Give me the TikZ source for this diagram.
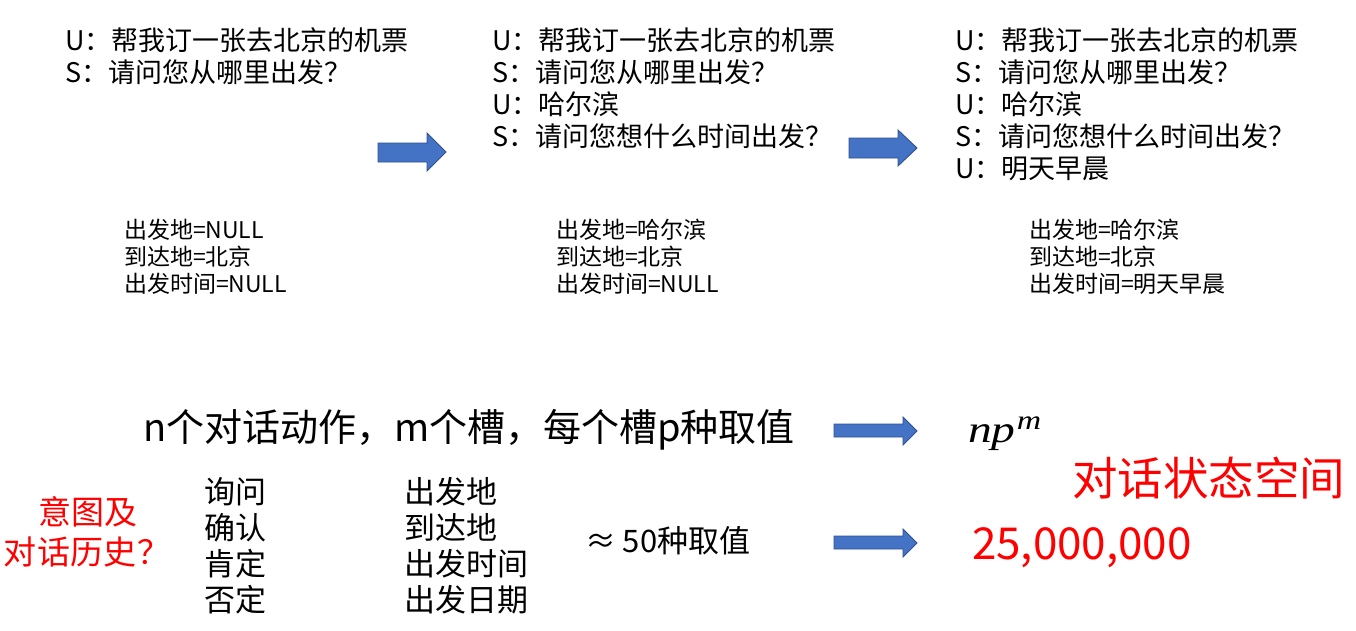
\documentclass[tikz,border=0pt]{standalone}
\usepackage{fontspec}
\setmainfont{Noto Sans CJK SC}
\newfontfamily\mathlikefont{Liberation Serif}
\definecolor{arrfill}{HTML}{4472C4}
\definecolor{arrdraw}{HTML}{2F528F}
\definecolor{myred}{HTML}{FF0000}
\tikzset{
  txt/.style={anchor=base west, inner sep=0pt, outer sep=0pt},
  dlg/.style={txt, font=\fontsize{27}{32}\selectfont},
  slot/.style={txt, font=\fontsize{23}{27}\selectfont},
  big/.style={txt, font=\fontsize{38}{42}\selectfont},
  mid/.style={txt, font=\fontsize{31}{36}\selectfont},
  redtxt/.style={inner sep=0pt, outer sep=0pt, text=myred},
  blockarrow/.style={fill=arrfill, draw=arrdraw, line width=0.9pt, line join=miter}
}
\begin{document}
\begin{tikzpicture}[x=1pt,y=-1pt]
\useasboundingbox (0,0) rectangle (1356,630);
% dialogue 1
\node[dlg] (d1a) at (65,50.3) {U：帮我订一张去北京的机票};
\node[dlg] (d1b) at (65,82.3) {S：请问您从哪里出发？};
% dialogue 2
\node[dlg] (d2a) at (492,50.3) {U：帮我订一张去北京的机票};
\node[dlg] (d2b) at (492,82.3) {S：请问您从哪里出发？};
\node[dlg] (d2c) at (492,114.3) {U：哈尔滨};
\node[dlg] (d2d) at (492,146.3) {S：请问您想什么时间出发？};
% dialogue 3
\node[dlg] (d3a) at (955,50.3) {U：帮我订一张去北京的机票};
\node[dlg] (d3b) at (955,82.3) {S：请问您从哪里出发？};
\node[dlg] (d3c) at (955,114.3) {U：哈尔滨};
\node[dlg] (d3d) at (955,146.3) {S：请问您想什么时间出发？};
\node[dlg] (d3e) at (955,178.3) {U：明天早晨};
% slots
\node[slot] (s1a) at (124,238.7) {出发地=NULL};
\node[slot] (s1b) at (124,265.7) {到达地=北京};
\node[slot] (s1c) at (124,292.7) {出发时间=NULL};
\node[slot] (s2a) at (556,238.7) {出发地=哈尔滨};
\node[slot] (s2b) at (556,265.7) {到达地=北京};
\node[slot] (s2c) at (556,292.7) {出发时间=NULL};
\node[slot] (s3a) at (1029,238.7) {出发地=哈尔滨};
\node[slot] (s3b) at (1029,265.7) {到达地=北京};
\node[slot] (s3c) at (1029,292.7) {出发时间=明天早晨};
% top arrows
\draw[blockarrow] (378,143) -- (427,143) -- (427,133) -- (446,152) -- (427,171) -- (427,162) -- (378,162) -- cycle;
\draw[blockarrow] (849,138) -- (898,138) -- (898,130) -- (917,148) -- (898,166) -- (898,158) -- (849,158) -- cycle;
% bottom
\node[big] (formula) at (143,441.4) {n个对话动作，m个槽，每个槽p种取值};
\draw[blockarrow] (834,424) -- (903,424) -- (903,417) -- (917,431) -- (903,445) -- (903,437) -- (834,437) -- cycle;
\node[txt] (npm) at (968,442) {\scalebox{1.25}[1]{\mathlikefont\fontsize{38}{42}\selectfont\itshape np\kern1pt\raisebox{13pt}{\fontsize{27}{30}\selectfont\itshape m}}};
\node[redtxt, anchor=base west, font=\fontsize{45.5}{50}\selectfont] (space) at (1072,495) {对话状态空间};
\node[mid] (a1) at (204,503.8) {询问};
\node[mid] (a2) at (204,539.8) {确认};
\node[mid] (a3) at (204,575.8) {肯定};
\node[mid] (a4) at (204,611.8) {否定};
\node[mid] (b1) at (404,503.8) {出发地};
\node[mid] (b2) at (404,539.8) {到达地};
\node[mid] (b3) at (404,575.8) {出发时间};
\node[mid] (b4) at (404,611.8) {出发日期};
\node[mid] (approx) at (585,552.8) {≈ 50种取值};
\node[redtxt, anchor=base west, font=\fontsize{33}{38}\selectfont] (r1) at (38,524) {意图及};
\node[redtxt, anchor=base west, font=\fontsize{33}{38}\selectfont] (r2) at (4,564.5) {对话历史\kern2pt？};
\draw[blockarrow] (834,536) -- (903,536) -- (903,529) -- (917,543) -- (903,557) -- (903,549) -- (834,549) -- cycle;
\node[redtxt, anchor=base west, font=\fontsize{44}{48}\selectfont] (num) at (972,559.5) {25,000,000};
\end{tikzpicture}
\end{document}
